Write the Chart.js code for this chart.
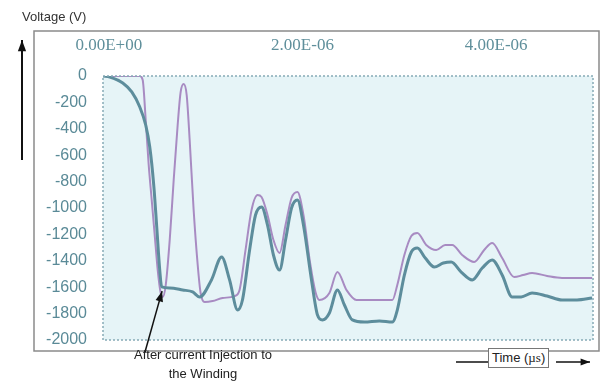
<!DOCTYPE html>
<html>
<head>
<meta charset="utf-8">
<script src="https://cdn.jsdelivr.net/npm/chart.js@4/dist/chart.umd.min.js"></script>
<style>
  html, body { margin: 0; padding: 0; background: #fff; }
  #wrap { position: relative; width: 605px; height: 385px; }
  .lbl { position: absolute; font-family: "Liberation Sans", Arial, sans-serif; color: #222; white-space: nowrap; }
</style>
</head>
<body>
<div id="wrap">
  <canvas id="voltChart" width="605" height="385"></canvas>
  <div class="lbl" style="left:22px;top:9px;font-size:13px;color:#333;">Voltage (V)</div>
  <div class="lbl" style="left:128px;top:345px;font-size:13px;text-align:center;line-height:19px;width:150px;">After current Injection to<br>the Winding</div>
  <div class="lbl" style="left:488px;top:348px;font-size:13px;border:1px solid #777;padding:1px 3px;background:#fff;">Time (<span style="font-family:'Liberation Serif',serif;">µs</span>)</div>
</div>
<script>
// time in microseconds, voltage in volts
const timeTeal = [-0.06, 0.01, 0.144, 0.237, 0.32, 0.381, 0.423, 0.464, 0.495, 0.526, 0.546, 0.629, 0.763, 0.866, 0.938,
  1.06, 1.165, 1.247, 1.33, 1.38, 1.454, 1.515, 1.577, 1.639, 1.7, 1.763, 1.825, 1.887, 1.948, 2.01, 2.093, 2.155, 2.206,
  2.278, 2.361, 2.433, 2.515, 2.639, 2.794, 2.928, 2.979, 3.052, 3.124, 3.186, 3.268, 3.361, 3.454, 3.536, 3.639, 3.753,
  3.856, 3.959, 4.062, 4.165, 4.258, 4.371, 4.526, 4.68, 4.835, 4.99];
const voltTeal = [0, -8, -53, -121, -235, -371, -538, -826, -1144, -1470, -1598, -1606, -1621, -1636, -1674,
  -1545, -1371, -1545, -1773, -1697, -1318, -1053, -992, -1129, -1356, -1470, -1242, -1000, -940, -1129, -1545, -1811, -1848,
  -1795, -1621, -1735, -1848, -1864, -1856, -1864, -1773, -1508, -1333, -1303, -1379, -1447, -1417, -1409, -1485, -1545,
  -1455, -1394, -1508, -1674, -1674, -1644, -1667, -1697, -1697, -1682];

const timePurple = [-0.06, 0.165, 0.32, 0.35, 0.381, 0.412, 0.443, 0.474, 0.505, 0.536, 0.557, 0.588, 0.629, 0.67, 0.711,
  0.742, 0.773, 0.804, 0.835, 0.876, 0.918, 0.948, 0.99, 1.072, 1.175, 1.299, 1.35, 1.412, 1.474, 1.536, 1.577, 1.639, 1.7,
  1.763, 1.825, 1.887, 1.948, 2.01, 2.082, 2.134, 2.175, 2.278, 2.361, 2.454, 2.557, 2.742, 2.928, 2.979, 3.052, 3.124,
  3.186, 3.278, 3.381, 3.474, 3.546, 3.649, 3.773, 3.876, 3.959, 4.062, 4.186, 4.278, 4.371, 4.526, 4.68, 4.835, 4.99];
const voltPurple = [0, 0, 0, -30, -333, -674, -939, -1205, -1470, -1644, -1674, -1583, -1242, -788, -371,
  -121, -61, -144, -485, -1015, -1432, -1644, -1712, -1705, -1682, -1667, -1621, -1318, -1015, -902, -917, -1053, -1242,
  -1341, -1129, -924, -879, -1053, -1432, -1636, -1697, -1644, -1485, -1621, -1697, -1697, -1697, -1583, -1356, -1212,
  -1189, -1280, -1318, -1280, -1280, -1356, -1409, -1318, -1265, -1379, -1523, -1508, -1492, -1515, -1530, -1530, -1530];

const xTicks = [0, 2, 4];
const yMin = -2000, yMax = 0, yStep = 200;

function sciLabel(us) {
  const parts = (us * 1e-6).toExponential(2).split('e');
  let exp = parseInt(parts[1], 10);
  const sign = exp < 0 ? '-' : '+';
  exp = Math.abs(exp);
  return parts[0] + 'E' + sign + (exp < 10 ? '0' + exp : exp);
}

function toPoints(xs, ys) {
  return xs.map((x, i) => ({ x: x, y: ys[i] }));
}

function arrow(ctx, x1, y1, x2, y2, head) {
  const a = Math.atan2(y2 - y1, x2 - x1);
  ctx.beginPath();
  ctx.moveTo(x1, y1);
  ctx.lineTo(x2, y2);
  ctx.stroke();
  ctx.beginPath();
  ctx.moveTo(x2, y2);
  ctx.lineTo(x2 - head * Math.cos(a - 0.35), y2 - head * Math.sin(a - 0.35));
  ctx.lineTo(x2 - head * Math.cos(a + 0.35), y2 - head * Math.sin(a + 0.35));
  ctx.closePath();
  ctx.fill();
}

// background, frame and arrows
const decor = {
  id: 'decor',
  beforeDraw(chart) {
    const ctx = chart.ctx, a = chart.chartArea;
    ctx.save();
    ctx.fillStyle = '#fff';
    ctx.fillRect(0, 0, chart.width, chart.height);
    ctx.strokeStyle = '#8a8a8a';
    ctx.lineWidth = 1.5;
    ctx.strokeRect(34, 31, 565, 320);
    ctx.fillStyle = '#e6f4f7';
    ctx.fillRect(a.left, a.top, a.right - a.left, a.bottom - a.top);
    ctx.restore();
  },
  afterDraw(chart) {
    const ctx = chart.ctx, a = chart.chartArea;
    const xs = chart.scales.x, ys = chart.scales.y;
    ctx.save();
    ctx.strokeStyle = '#86abb6';
    ctx.lineWidth = 1.5;
    ctx.setLineDash([2, 2]);
    ctx.strokeRect(a.left, a.top, a.right - a.left, a.bottom - a.top);
    ctx.setLineDash([]);
    ctx.strokeStyle = '#111';
    ctx.fillStyle = '#111';
    ctx.lineWidth = 2;
    arrow(ctx, 22, 160, 22, 40, 12);
    ctx.lineWidth = 1.5;
    arrow(ctx, 145, 352, xs.getPixelForValue(0.55), ys.getPixelForValue(-1630), 11);
    ctx.lineWidth = 1.5;
    ctx.beginPath();
    ctx.moveTo(456, 362);
    ctx.lineTo(488, 362);
    ctx.stroke();
    arrow(ctx, 556, 362, 590, 362, 10);
    ctx.restore();
  }
};

new Chart(document.getElementById('voltChart').getContext('2d'), {
  type: 'line',
  data: {
    datasets: [{
      label: 'After injection',
      data: toPoints(timeTeal, voltTeal),
      borderColor: '#5d8d9c',
      borderWidth: 3,
      pointRadius: 0,
      cubicInterpolationMode: 'monotone'
    }, {
      label: 'Before injection',
      data: toPoints(timePurple, voltPurple),
      borderColor: '#a88bc2',
      borderWidth: 2,
      pointRadius: 0,
      cubicInterpolationMode: 'monotone'
    }]
  },
  options: {
    responsive: false,
    animation: false,
    layout: { padding: { left: 0, top: 30, right: 12, bottom: 45 } },
    plugins: { legend: { display: false }, tooltip: { enabled: false } },
    scales: {
      x: {
        type: 'linear',
        position: 'top',
        min: -0.06,
        max: 5.0,
        afterBuildTicks: s => { s.ticks = xTicks.map(v => ({ value: v })); },
        afterFit: s => { s.height = 46; },
        grid: { display: false, drawTicks: false },
        border: { display: false },
        ticks: {
          padding: 20,
          maxRotation: 0,
          color: '#5f8f9b',
          font: { family: '"Liberation Serif", serif', size: 17 },
          callback: v => sciLabel(v)
        }
      },
      y: {
        min: yMin,
        max: yMax,
        afterFit: s => { s.width = 103; },
        grid: { display: false, drawTicks: true, tickLength: 6, tickColor: '#7fa6b2' },
        border: { display: false },
        ticks: {
          stepSize: yStep,
          padding: 10,
          color: '#5a8a97',
          font: { family: '"Liberation Sans", Arial, sans-serif', size: 16 },
          callback: v => String(v)
        }
      }
    }
  },
  plugins: [decor]
});
</script>
</body>
</html>
